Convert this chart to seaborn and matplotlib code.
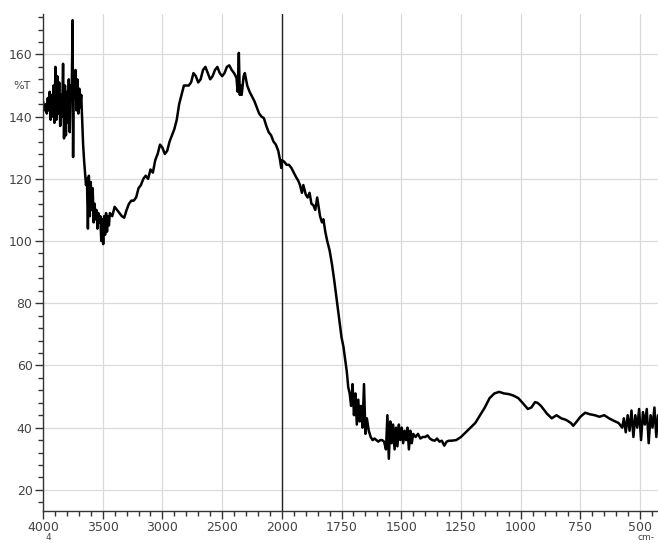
import numpy as np
import pandas as pd
import matplotlib
matplotlib.use("Agg")
import matplotlib.pyplot as plt
import seaborn as sns
from matplotlib.ticker import FixedLocator

wavenumber = [
    4000, 3992, 3984, 3976, 3968, 3960, 3952, 3944, 3936, 3928, 3920, 3912, 3904, 3896, 3888, 3880,
    3872, 3864, 3856, 3848, 3840, 3832, 3824, 3816, 3808, 3800, 3792, 3784, 3776, 3768, 3760, 3752,
    3748, 3744, 3736, 3728, 3720, 3712, 3704, 3696, 3688, 3680, 3672, 3664, 3656, 3648, 3640, 3632,
    3624, 3616, 3608, 3600, 3592, 3584, 3576, 3568, 3560, 3552, 3544, 3536, 3528, 3520, 3512, 3504,
    3496, 3488, 3480, 3472, 3464, 3456, 3448, 3440,
    3420, 3400, 3380, 3360, 3340, 3320, 3300, 3280, 3260, 3240, 3220, 3200, 3180, 3160, 3140, 3120,
    3100, 3080, 3060, 3040, 3020, 3000, 2980, 2960, 2940, 2920, 2900, 2880, 2860, 2840, 2820, 2800,
    2780, 2760, 2740, 2720, 2700, 2680, 2660, 2640, 2620, 2600, 2580, 2560, 2540, 2520, 2500, 2480,
    2460, 2440, 2420, 2400, 2380, 2370, 2360, 2352, 2344, 2336, 2320, 2310, 2290, 2270, 2250, 2230,
    2210, 2190, 2170, 2150, 2130, 2110, 2090, 2070, 2050, 2030, 2015, 2005, 2000, 1990, 1980, 1970,
    1960, 1950, 1940, 1932, 1924, 1916, 1910, 1900, 1892, 1884, 1876, 1868, 1860, 1852, 1846, 1840,
    1832, 1826, 1818, 1810, 1800, 1790, 1780, 1770, 1760, 1750, 1742, 1736, 1728, 1722, 1716, 1710,
    1704, 1698, 1692, 1686, 1680, 1674, 1668, 1662, 1656, 1650, 1644, 1636, 1628, 1620, 1612, 1604,
    1596, 1588, 1580, 1572, 1564, 1558, 1552, 1546, 1540, 1534, 1528, 1522, 1516, 1510, 1504, 1498,
    1492, 1486, 1480, 1474, 1468, 1462, 1456, 1450, 1440, 1430, 1420, 1410, 1400, 1390, 1380, 1370,
    1360, 1350, 1340, 1330, 1320, 1310, 1300, 1290, 1270, 1250, 1230, 1210, 1190, 1170, 1150, 1130,
    1110, 1090, 1070, 1050, 1030, 1010, 990, 970, 955, 940, 930, 915, 900, 890, 870, 850,
    830, 810, 790, 780, 765, 750, 730, 710, 690, 670, 650, 630, 610, 590, 575, 568,
    560, 552, 544, 536, 528, 520, 512, 504, 496, 488, 480, 472, 464, 456, 448, 440,
    432, 425,
]
transmittance = [
    145, 143, 142, 144, 141, 146, 142, 148, 139, 147, 140, 150, 138, 156, 139, 153,
    141, 151, 137, 147, 140, 157, 133, 150, 134, 148, 138, 152, 135, 150, 146, 171,
    127, 151, 146, 155, 142, 152, 141, 149, 143, 147, 139, 131, 126, 122, 118, 120,
    104, 121, 108, 119, 110, 117, 106, 112, 107, 110, 104, 109, 106, 108, 100, 107,
    99, 108, 102, 109, 103, 108, 105, 109,
    108, 111, 110, 109, 108, 107.5, 110, 112, 113, 113, 114, 117, 118, 120, 121, 120,
    123, 122, 126, 128, 131, 130, 128, 129, 132, 134, 136, 139, 144, 147, 150, 150,
    150, 151, 154, 153, 151, 152, 155, 156, 154, 152, 153, 155, 156, 154, 153, 154,
    156, 156.5, 155, 154, 152.5, 148, 160.5, 147, 150, 147, 153, 154, 150, 148, 146.5, 145,
    143, 141, 140, 139.5, 137, 135, 134, 132, 131, 129, 126, 123.5, 126, 125.5, 124.5, 124.5,
    123.5, 122, 120.5, 119.5, 118, 115.5, 118, 115, 114, 115.5, 112, 111.5, 110, 114, 111, 108,
    106, 107, 103, 100, 97, 92.5, 87, 81, 75, 69, 66, 62.5, 58, 53, 51, 47,
    54, 44, 51, 41, 49, 42, 47, 40, 54, 38, 43, 39, 37, 36, 36.5, 36,
    35.5, 36, 36, 35.5, 33, 44, 30, 42, 35, 41, 33, 40, 34, 41, 36, 40,
    35, 39, 36, 40, 33, 39, 35, 38, 37, 38, 36.5, 37, 37, 37.5, 36.5, 36,
    35.8, 36.5, 35.5, 35.8, 34.2, 35.5, 35.8, 35.8, 36, 37, 38.5, 40, 41.5, 44, 46.5, 49.5,
    51, 51.5, 51, 50.8, 50.3, 49.5, 47.8, 46, 46.5, 48.2, 48, 47, 45.5, 44.5, 43, 44,
    43, 42.5, 41.5, 40.6, 42, 43.5, 44.8, 44.3, 44, 43.5, 44, 43, 42.2, 41.5, 40, 43,
    38.5, 44, 39, 45.5, 37, 44, 40, 46, 36, 45, 41, 46, 35, 44, 40, 46.5,
    37, 44,
]

x_major = [4000, 3500, 3000, 2500, 2000, 1750, 1500, 1250, 1000, 750, 500]
y_major = [20, 40, 60, 80, 100, 120, 140, 160]

df = pd.DataFrame({"wn": wavenumber, "T": transmittance})

W, H = 658, 543
sns.set_style("white")
fig = plt.figure(figsize=(W / 100, H / 100), dpi=100)
ax = fig.add_axes([43 / W, 1 - 511 / H, (658 - 43) / W, (511 - 14) / H])


def fwd(x):
    x = np.asarray(x, dtype=float)
    return np.where(x > 2000, 2000 + (x - 2000) / 2.0, x)


def inv(y):
    y = np.asarray(y, dtype=float)
    return np.where(y > 2000, 2000 + (y - 2000) * 2.0, y)


ax.set_xscale("function", functions=(fwd, inv))

sns.lineplot(data=df, x="wn", y="T", ax=ax, color="black", linewidth=1.8,
             estimator=None, sort=False)

ax.set_xlim(4000, 425)
ax.set_ylim(13.2, 173)

ax.xaxis.set_major_locator(FixedLocator(x_major))
minors_x = list(range(3900, 2000, -100)) + list(range(1950, 420, -50))
minors_x = [m for m in minors_x if m not in x_major]
ax.xaxis.set_minor_locator(FixedLocator(minors_x))
ax.yaxis.set_major_locator(FixedLocator(y_major))
ax.yaxis.set_minor_locator(FixedLocator([v for v in range(16, 173, 4) if v not in y_major]))
ax.set_xticklabels([str(v) for v in x_major])

ax.grid(True, which="major", color="#dadada", linewidth=0.9)
ax.set_axisbelow(True)
ax.axvline(2000, color="#222222", linewidth=1.0, zorder=1)

for s in ["top", "right"]:
    ax.spines[s].set_visible(False)
for s in ["left", "bottom"]:
    ax.spines[s].set_color("#333333")
    ax.spines[s].set_linewidth(1.0)

ax.tick_params(axis="both", which="both", bottom=True, left=True, top=False, right=False)
ax.tick_params(axis="both", which="major", direction="out", length=6, width=1,
               color="#333333", labelsize=9, labelcolor="#444444", pad=1.5)
ax.tick_params(axis="both", which="minor", direction="out", length=3.5, width=1,
               color="#333333")
ax.set_xlabel("")
ax.set_ylabel("")

fig.text(22 / W, 1 - 86 / H, "%T", fontsize=8, color="#444444", ha="center", va="center")
fig.text(48 / W, 0.002, "4", fontsize=6.5, color="#444444", ha="center", va="bottom")
fig.text(646 / W, 0.002, "cm-", fontsize=6.5, color="#444444", ha="center", va="bottom")

fig.savefig("out.png", dpi=100)
